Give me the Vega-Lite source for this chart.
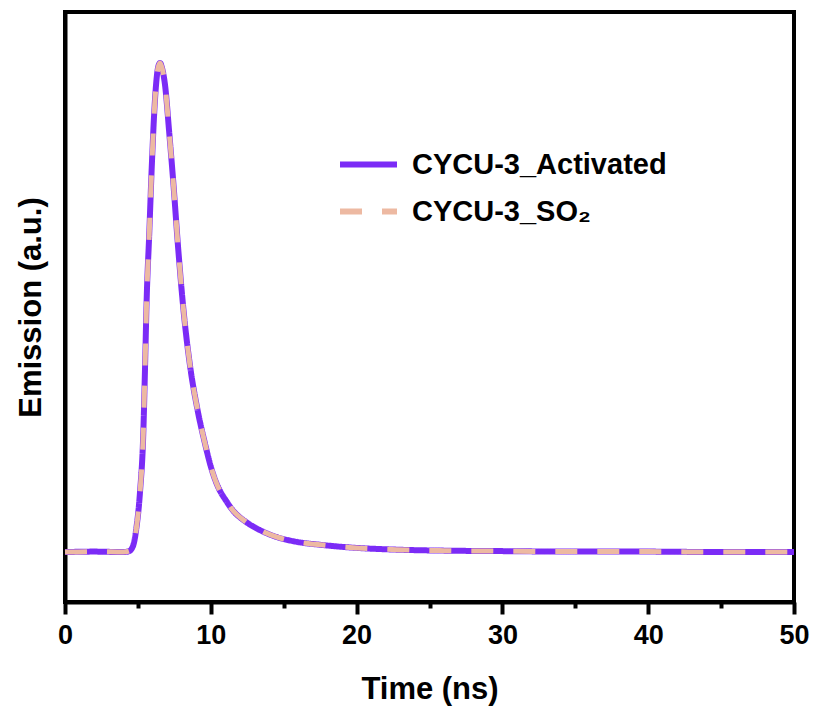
{
  "$schema": "https://vega.github.io/schema/vega-lite/v6.json",
  "width": 729,
  "height": 590,
  "autosize": "none",
  "padding": {"left": 65, "top": 12, "right": 21, "bottom": 109},
  "background": "white",
  "config": {
    "font": "Liberation Sans",
    "view": {"stroke": "black", "strokeWidth": 4},
    "axis": {"grid": false}
  },
  "datasets": {
    "pts": [
      {"series": "CYCU-3_Activated", "t": 0, "v": 0},
      {"series": "CYCU-3_Activated", "t": 2, "v": 0.001},
      {"series": "CYCU-3_Activated", "t": 4.0, "v": 0},
      {"series": "CYCU-3_Activated", "t": 4.4, "v": 0.002},
      {"series": "CYCU-3_Activated", "t": 4.66, "v": 0.012},
      {"series": "CYCU-3_Activated", "t": 4.9, "v": 0.05},
      {"series": "CYCU-3_Activated", "t": 5.14, "v": 0.121},
      {"series": "CYCU-3_Activated", "t": 5.37, "v": 0.243},
      {"series": "CYCU-3_Activated", "t": 5.49, "v": 0.378},
      {"series": "CYCU-3_Activated", "t": 5.6, "v": 0.515},
      {"series": "CYCU-3_Activated", "t": 5.78, "v": 0.652},
      {"series": "CYCU-3_Activated", "t": 5.95, "v": 0.787},
      {"series": "CYCU-3_Activated", "t": 6.17, "v": 0.924},
      {"series": "CYCU-3_Activated", "t": 6.38, "v": 0.99},
      {"series": "CYCU-3_Activated", "t": 6.52, "v": 1.0},
      {"series": "CYCU-3_Activated", "t": 6.65, "v": 0.99},
      {"series": "CYCU-3_Activated", "t": 6.86, "v": 0.955},
      {"series": "CYCU-3_Activated", "t": 7.15, "v": 0.857},
      {"series": "CYCU-3_Activated", "t": 7.43, "v": 0.755},
      {"series": "CYCU-3_Activated", "t": 7.77, "v": 0.618},
      {"series": "CYCU-3_Activated", "t": 8.11, "v": 0.5},
      {"series": "CYCU-3_Activated", "t": 8.57, "v": 0.382},
      {"series": "CYCU-3_Activated", "t": 9.03, "v": 0.3},
      {"series": "CYCU-3_Activated", "t": 9.6, "v": 0.222},
      {"series": "CYCU-3_Activated", "t": 10.0, "v": 0.175},
      {"series": "CYCU-3_Activated", "t": 10.4, "v": 0.14},
      {"series": "CYCU-3_Activated", "t": 11.09, "v": 0.103},
      {"series": "CYCU-3_Activated", "t": 11.52, "v": 0.085},
      {"series": "CYCU-3_Activated", "t": 12.4, "v": 0.062},
      {"series": "CYCU-3_Activated", "t": 13.37, "v": 0.045},
      {"series": "CYCU-3_Activated", "t": 14.5, "v": 0.031},
      {"series": "CYCU-3_Activated", "t": 15.89, "v": 0.021},
      {"series": "CYCU-3_Activated", "t": 17.5, "v": 0.015},
      {"series": "CYCU-3_Activated", "t": 19.32, "v": 0.01},
      {"series": "CYCU-3_Activated", "t": 22.75, "v": 0.005},
      {"series": "CYCU-3_Activated", "t": 26, "v": 0.003},
      {"series": "CYCU-3_Activated", "t": 30, "v": 0.002},
      {"series": "CYCU-3_Activated", "t": 35, "v": 0.001},
      {"series": "CYCU-3_Activated", "t": 40, "v": 0.001},
      {"series": "CYCU-3_Activated", "t": 45, "v": 0},
      {"series": "CYCU-3_Activated", "t": 50, "v": 0},
      {"series": "CYCU-3_SO₂", "t": 0, "v": 0},
      {"series": "CYCU-3_SO₂", "t": 2, "v": 0.001},
      {"series": "CYCU-3_SO₂", "t": 4.0, "v": 0},
      {"series": "CYCU-3_SO₂", "t": 4.4, "v": 0.002},
      {"series": "CYCU-3_SO₂", "t": 4.66, "v": 0.012},
      {"series": "CYCU-3_SO₂", "t": 4.9, "v": 0.05},
      {"series": "CYCU-3_SO₂", "t": 5.14, "v": 0.121},
      {"series": "CYCU-3_SO₂", "t": 5.37, "v": 0.243},
      {"series": "CYCU-3_SO₂", "t": 5.49, "v": 0.378},
      {"series": "CYCU-3_SO₂", "t": 5.6, "v": 0.515},
      {"series": "CYCU-3_SO₂", "t": 5.78, "v": 0.652},
      {"series": "CYCU-3_SO₂", "t": 5.95, "v": 0.787},
      {"series": "CYCU-3_SO₂", "t": 6.17, "v": 0.924},
      {"series": "CYCU-3_SO₂", "t": 6.38, "v": 0.99},
      {"series": "CYCU-3_SO₂", "t": 6.52, "v": 1.0},
      {"series": "CYCU-3_SO₂", "t": 6.65, "v": 0.99},
      {"series": "CYCU-3_SO₂", "t": 6.86, "v": 0.955},
      {"series": "CYCU-3_SO₂", "t": 7.15, "v": 0.857},
      {"series": "CYCU-3_SO₂", "t": 7.43, "v": 0.755},
      {"series": "CYCU-3_SO₂", "t": 7.77, "v": 0.618},
      {"series": "CYCU-3_SO₂", "t": 8.11, "v": 0.5},
      {"series": "CYCU-3_SO₂", "t": 8.57, "v": 0.382},
      {"series": "CYCU-3_SO₂", "t": 9.03, "v": 0.3},
      {"series": "CYCU-3_SO₂", "t": 9.6, "v": 0.222},
      {"series": "CYCU-3_SO₂", "t": 10.0, "v": 0.175},
      {"series": "CYCU-3_SO₂", "t": 10.4, "v": 0.14},
      {"series": "CYCU-3_SO₂", "t": 11.09, "v": 0.103},
      {"series": "CYCU-3_SO₂", "t": 11.52, "v": 0.085},
      {"series": "CYCU-3_SO₂", "t": 12.4, "v": 0.062},
      {"series": "CYCU-3_SO₂", "t": 13.37, "v": 0.045},
      {"series": "CYCU-3_SO₂", "t": 14.5, "v": 0.031},
      {"series": "CYCU-3_SO₂", "t": 15.89, "v": 0.021},
      {"series": "CYCU-3_SO₂", "t": 17.5, "v": 0.015},
      {"series": "CYCU-3_SO₂", "t": 19.32, "v": 0.01},
      {"series": "CYCU-3_SO₂", "t": 22.75, "v": 0.005},
      {"series": "CYCU-3_SO₂", "t": 26, "v": 0.003},
      {"series": "CYCU-3_SO₂", "t": 30, "v": 0.002},
      {"series": "CYCU-3_SO₂", "t": 35, "v": 0.001},
      {"series": "CYCU-3_SO₂", "t": 40, "v": 0.001},
      {"series": "CYCU-3_SO₂", "t": 45, "v": 0},
      {"series": "CYCU-3_SO₂", "t": 50, "v": 0}
    ]
  },
  "data": {"name": "pts"},
  "encoding": {
    "x": {
      "field": "t", "type": "quantitative",
      "scale": {"domain": [0, 50], "nice": false, "zero": false},
      "axis": {
        "title": "Time (ns)",
        "titleFont": "Liberation Sans", "titleFontSize": 31, "titleFontWeight": "bold", "titleColor": "black",
        "titleBaseline": "middle", "titleY": 87,
        "values": [0, 5, 10, 15, 20, 25, 30, 35, 40, 45, 50],
        "labelExpr": "datum.value % 10 === 0 ? datum.label : ''",
        "labelFont": "Liberation Sans", "labelFontSize": 27, "labelFontWeight": "bold", "labelColor": "black",
        "labelPadding": 8, "labelFlush": false, "labelOverlap": false,
        "domainColor": "black", "domainWidth": 4,
        "tickColor": "black", "tickWidth": 4,
        "tickSize": {"condition": {"test": "datum.value % 10 !== 0", "value": 6}, "value": 12}
      }
    },
    "y": {
      "field": "v", "type": "quantitative",
      "scale": {"domain": [-0.102, 1.104], "nice": false, "zero": false},
      "axis": {
        "title": "Emission (a.u.)",
        "titleFont": "Liberation Sans", "titleFontSize": 31, "titleFontWeight": "bold", "titleColor": "black",
        "titleBaseline": "middle", "titleX": -34,
        "labels": false, "ticks": false,
        "domainColor": "black", "domainWidth": 4
      }
    },
    "color": {
      "field": "series", "type": "nominal",
      "scale": {"domain": ["CYCU-3_Activated", "CYCU-3_SO₂"], "range": ["#7B2BF6", "#EDB9A2"]},
      "legend": {
        "title": null, "orient": "none", "legendX": 272, "legendY": 121,
        "padding": 0, "symbolType": "stroke", "symbolSize": 3249, "symbolStrokeWidth": 6,
        "labelFont": "Liberation Sans", "labelFontSize": 29, "labelFontWeight": "bold", "labelColor": "black",
        "labelOffset": 12, "rowPadding": 0, "labelLimit": 400
      }
    },
    "strokeDash": {
      "field": "series", "type": "nominal",
      "scale": {"domain": ["CYCU-3_Activated", "CYCU-3_SO₂"], "range": [[1, 0], [22, 20]]},
      "legend": {
        "title": null, "orient": "none", "legendX": 272, "legendY": 121,
        "padding": 0, "symbolType": "stroke", "symbolSize": 3249, "symbolStrokeWidth": 6,
        "labelFont": "Liberation Sans", "labelFontSize": 29, "labelFontWeight": "bold", "labelColor": "black",
        "labelOffset": 12, "rowPadding": 0, "labelLimit": 400
      }
    }
  },
  "layer": [
    {
      "transform": [{"filter": "datum.series === 'CYCU-3_Activated'"}],
      "mark": {"type": "line", "strokeWidth": 6, "interpolate": "monotone"}
    },
    {
      "transform": [{"filter": "datum.series !== 'CYCU-3_Activated'"}],
      "mark": {"type": "line", "strokeWidth": 5, "interpolate": "monotone"}
    }
  ]
}
